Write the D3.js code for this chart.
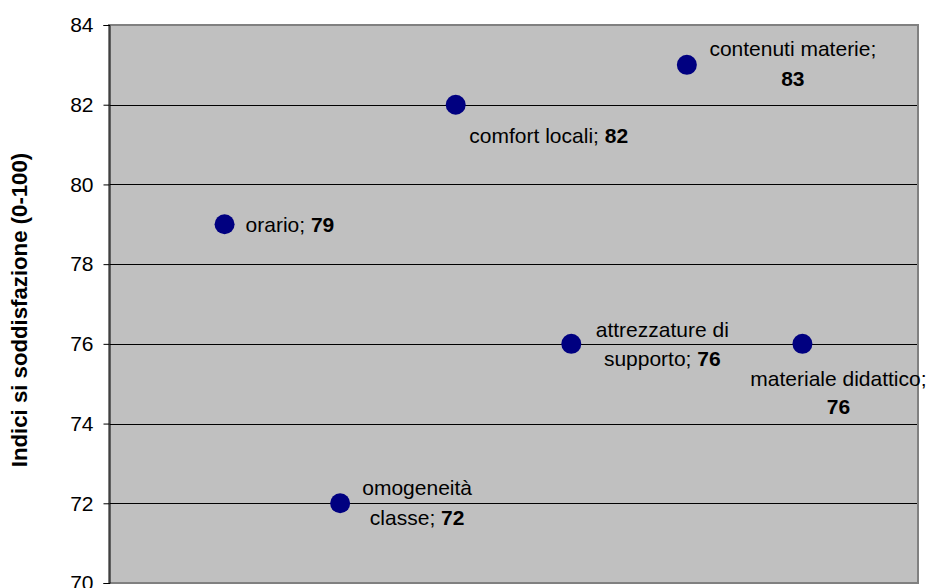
<!DOCTYPE html>
<html><head><meta charset="utf-8">
<script src="https://cdn.jsdelivr.net/npm/d3@7"></script>
<style>
html,body{margin:0;padding:0;background:#fff;}
svg text{font-family:"Liberation Sans",Arial,sans-serif;fill:#000;}
</style></head>
<body><svg id="c" width="929" height="588"></svg>
<script>
const categories = ["orario","omogeneità classe","comfort locali","attrezzature di supporto","contenuti materie","materiale didattico"];
const values = [79,72,82,76,83,76];
// label text split in lines (last line carries the bold value)
const labelLines = [
  ["orario; "],
  ["omogeneità","classe; "],
  ["comfort locali; "],
  ["attrezzature di","supporto; "],
  ["contenuti materie;",""],
  ["materiale didattico;",""]
];
const yTicks = [70,72,74,76,78,80,82,84];
const yTitle = "Indici si soddisfazione (0-100)";
// label layout: dx to anchor, dy per line, anchor
const labelLayout = [
  {dx:21, dys:[0], anchor:"start"},
  {dx:77, dys:[-16,14], anchor:"middle"},
  {dx:93, dys:[30], anchor:"middle"},
  {dx:91, dys:[-15,14], anchor:"middle"},
  {dx:106, dys:[-17,13], anchor:"middle"},
  {dx:36, dys:[34,62], anchor:"middle"}
];

const svg = d3.select("#c");
const L=109, R=918, T=25, B=583;
const x = d3.scaleLinear().domain([0,categories.length+1]).range([L,R]);
const y = d3.scaleLinear().domain([70,84]).range([B,T]);

svg.append("rect").attr("x",L).attr("y",T).attr("width",R-L).attr("height",B-T).attr("fill","#C0C0C0");

// gridlines
svg.append("g").selectAll("line").data(yTicks.filter(t=>t>70&&t<84)).join("line")
  .attr("x1",L).attr("x2",R).attr("y1",d=>Math.round(y(d))+0.5).attr("y2",d=>Math.round(y(d))+0.5)
  .attr("stroke","#000").attr("stroke-width",1);

// border (grey)
svg.append("rect").attr("x",L).attr("y",T).attr("width",R-L).attr("height",B-T)
  .attr("fill","none").attr("stroke","#808080").attr("stroke-width",2);

// y axis
const yAxis = d3.axisLeft(y).tickValues(yTicks).tickSize(6).tickPadding(10).tickFormat(d3.format("d"));
const gy = svg.append("g").attr("transform",`translate(${L+0.5},0)`).call(yAxis);
gy.select(".domain").attr("stroke","#000");
gy.selectAll(".tick line").attr("stroke","#000");
gy.selectAll(".tick text").style("font-size","21px").attr("fill","#000");

// title
svg.append("text").attr("transform",`translate(27,310) rotate(-90)`)
  .attr("text-anchor","middle")
  .style("font-size","22.2px").style("font-weight","bold").text(yTitle);

// points
const data = categories.map((c,i)=>({c,v:values[i],i}));
svg.append("g").selectAll("circle").data(data).join("circle")
  .attr("cx",d=>x(d.i+1)).attr("cy",d=>y(d.v)).attr("r",10).attr("fill","#000080");

// labels
const lg = svg.append("g");
data.forEach(d=>{
  const lay = labelLayout[d.i];
  const lines = labelLines[d.i];
  lines.forEach((ln,k)=>{
    const t = lg.append("text").attr("x",x(d.i+1)+lay.dx).attr("y",y(d.v)+lay.dys[k])
      .attr("text-anchor",lay.anchor).attr("dominant-baseline","central").style("font-size","21px");
    t.append("tspan").text(ln);
    if(k===lines.length-1) t.append("tspan").style("font-weight","bold").text(d.v);
  });
});
</script></body></html>
